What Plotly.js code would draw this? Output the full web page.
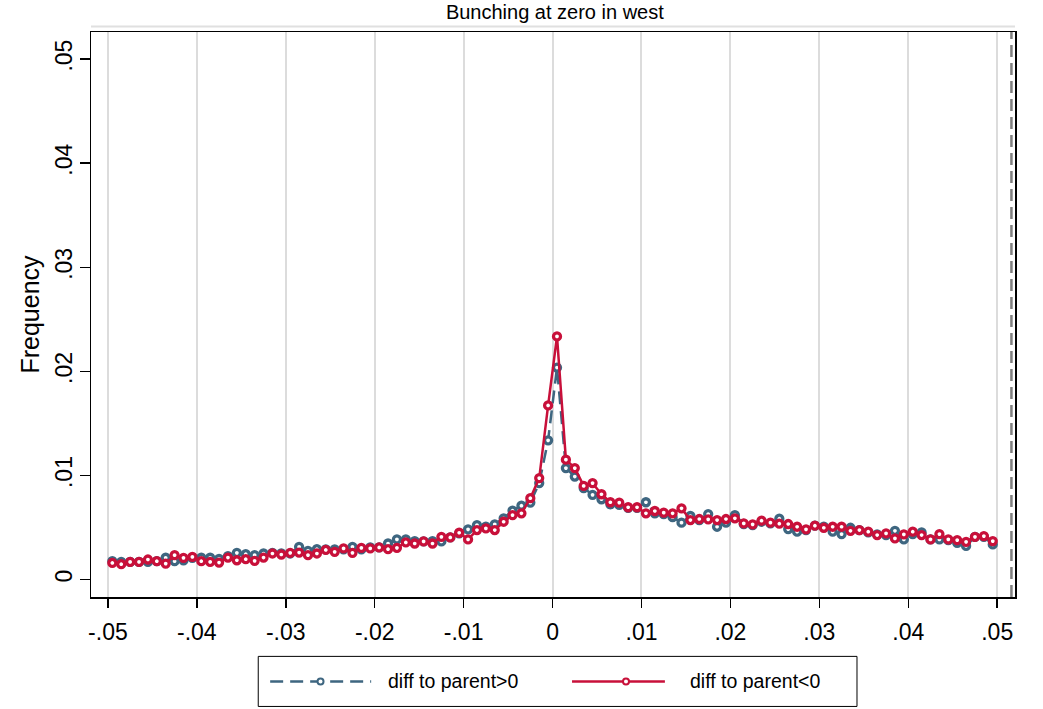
<!DOCTYPE html>
<html>
<head>
<meta charset="utf-8">
<script src="https://cdn.plot.ly/plotly-3.0.1.min.js"></script>
<style>html,body{margin:0;padding:0;background:#fff;}#chart{width:1043px;height:709px;}</style>
</head>
<body>
<div id="chart"></div>
<script>
// bin centres of the difference variable
const binCenters = [
 -0.0495,-0.0485,-0.0475,-0.0465,-0.0455,-0.0445,-0.0435,-0.0425,-0.0415,-0.0405,
 -0.0395,-0.0385,-0.0375,-0.0365,-0.0355,-0.0345,-0.0335,-0.0325,-0.0315,-0.0305,
 -0.0295,-0.0285,-0.0275,-0.0265,-0.0255,-0.0245,-0.0235,-0.0225,-0.0215,-0.0205,
 -0.0195,-0.0185,-0.0175,-0.0165,-0.0155,-0.0145,-0.0135,-0.0125,-0.0115,-0.0105,
 -0.0095,-0.0085,-0.0075,-0.0065,-0.0055,-0.0045,-0.0035,-0.0025,-0.0015,-0.0005,
 0.0005,0.0015,0.0025,0.0035,0.0045,0.0055,0.0065,0.0075,0.0085,0.0095,
 0.0105,0.0115,0.0125,0.0135,0.0145,0.0155,0.0165,0.0175,0.0185,0.0195,
 0.0205,0.0215,0.0225,0.0235,0.0245,0.0255,0.0265,0.0275,0.0285,0.0295,
 0.0305,0.0315,0.0325,0.0335,0.0345,0.0355,0.0365,0.0375,0.0385,0.0395,
 0.0405,0.0415,0.0425,0.0435,0.0445,0.0455,0.0465,0.0475,0.0485,0.0495
];
// frequency, diff to parent > 0
const freqPositive = [
 0.00177,0.00170,0.00170,0.00170,0.00170,0.00177,0.00210,0.00177,0.00186,0.00210,
 0.00210,0.00210,0.00200,0.00225,0.00257,0.00244,0.00235,0.00251,0.00257,0.00251,
 0.00251,0.00315,0.00276,0.00292,0.00291,0.00290,0.00290,0.00315,0.00290,0.00309,
 0.00309,0.00347,0.00386,0.00386,0.00370,0.00367,0.00370,0.00367,0.00405,0.00444,
 0.00483,0.00524,0.00508,0.00531,0.00589,0.00662,0.00710,0.00740,0.00927,0.01338,
 0.02037,0.01071,0.00990,0.00880,0.00814,0.00772,0.00724,0.00717,0.00690,0.00690,
 0.00743,0.00637,0.00630,0.00600,0.00547,0.00611,0.00572,0.00630,0.00508,0.00547,
 0.00620,0.00534,0.00524,0.00556,0.00540,0.00585,0.00485,0.00460,0.00476,0.00518,
 0.00508,0.00460,0.00437,0.00498,0.00476,0.00453,0.00434,0.00428,0.00469,0.00386,
 0.00437,0.00453,0.00386,0.00386,0.00379,0.00353,0.00324,0.00411,0.00411,0.00338
];
// frequency, diff to parent < 0
const freqNegative = [
 0.00160,0.00148,0.00170,0.00170,0.00193,0.00177,0.00154,0.00235,0.00209,0.00218,
 0.00177,0.00170,0.00164,0.00212,0.00186,0.00196,0.00180,0.00212,0.00251,0.00241,
 0.00257,0.00260,0.00235,0.00251,0.00285,0.00267,0.00300,0.00257,0.00305,0.00300,
 0.00309,0.00292,0.00305,0.00357,0.00347,0.00367,0.00347,0.00411,0.00405,0.00450,
 0.00386,0.00476,0.00492,0.00476,0.00556,0.00620,0.00637,0.00782,0.00975,0.01673,
 0.02336,0.01152,0.01071,0.00900,0.00927,0.00820,0.00743,0.00740,0.00695,0.00695,
 0.00637,0.00659,0.00643,0.00637,0.00685,0.00572,0.00582,0.00579,0.00572,0.00582,
 0.00589,0.00540,0.00531,0.00566,0.00547,0.00537,0.00534,0.00508,0.00483,0.00518,
 0.00498,0.00508,0.00508,0.00469,0.00476,0.00460,0.00428,0.00444,0.00396,0.00434,
 0.00460,0.00428,0.00386,0.00437,0.00386,0.00379,0.00363,0.00411,0.00418,0.00370
];
const xTickVals = [-0.05,-0.04,-0.03,-0.02,-0.01,0,0.01,0.02,0.03,0.04,0.05];
const xTickText = ["-.05","-.04","-.03","-.02","-.01","0",".01",".02",".03",".04",".05"];
const yTickVals = [0,0.01,0.02,0.03,0.04,0.05];
const yTickText = ["0",".01",".02",".03",".04",".05"];
const seriesNames = ["diff to parent>0","diff to parent<0"];
const refLineX = 0.0516;

const BLUE = "#3e6680";
const RED = "#c8103a";
const FONT = "Liberation Sans, Arial, sans-serif";

const traces = [
 {x: binCenters, y: freqPositive, name: seriesNames[0], type: "scatter", mode: "lines+markers",
  line: {color: BLUE, width: 2.5, dash: "13px,7px"},
  marker: {symbol: "circle", size: 7, color: "white", line: {color: BLUE, width: 3.3}},
  showlegend: false},
 {x: binCenters, y: freqNegative, name: seriesNames[1], type: "scatter", mode: "lines+markers",
  line: {color: RED, width: 2.5},
  marker: {symbol: "circle", size: 7, color: "white", line: {color: RED, width: 3.3}},
  showlegend: false}
];

// legend geometry (paper coordinates)
const legY = -0.1494;
const shapes = [
 {type: "line", xref: "x", yref: "paper", x0: refLineX, x1: refLineX, y0: 0, y1: 1,
  line: {color: "#808080", width: 2.5, dash: "12px,6px"}},
 {type: "line", xref: "paper", yref: "paper", x0: 0, x1: 1, y0: 1.0099, y1: 1.0099,
  line: {color: "#e0e0e0", width: 2}},
 {type: "rect", xref: "paper", yref: "paper", x0: 0.181, x1: 0.829, y0: -0.1937, y1: -0.1051,
  line: {color: "#000", width: 1}, fillcolor: "white"},
 {type: "line", xref: "paper", yref: "paper", x0: 0.1939, x1: 0.3032, y0: legY, y1: legY,
  line: {color: BLUE, width: 2.5, dash: "13px,7px"}},
 {type: "circle", xref: "paper", yref: "paper", xsizemode: "pixel", ysizemode: "pixel",
  xanchor: 0.2484, yanchor: legY, x0: -3, x1: 3, y0: -3, y1: 3,
  line: {color: BLUE, width: 2}, fillcolor: "white"},
 {type: "line", xref: "paper", yref: "paper", x0: 0.5206, x1: 0.6211, y0: legY, y1: legY,
  line: {color: RED, width: 2.5}},
 {type: "circle", xref: "paper", yref: "paper", xsizemode: "pixel", ysizemode: "pixel",
  xanchor: 0.579, yanchor: legY, x0: -3, x1: 3, y0: -3, y1: 3,
  line: {color: RED, width: 2}, fillcolor: "white"}
];

const annotations = [
 {xref: "paper", yref: "paper", x: 0.3194, y: legY, xanchor: "left", yanchor: "middle",
  text: seriesNames[0], showarrow: false, font: {family: FONT, size: 19.5, color: "#000"}},
 {xref: "paper", yref: "paper", x: 0.646, y: legY, xanchor: "left", yanchor: "middle",
  text: seriesNames[1], showarrow: false, font: {family: FONT, size: 19.5, color: "#000"}}
];

const layout = {
 width: 1043, height: 709,
 paper_bgcolor: "white", plot_bgcolor: "white",
 font: {family: FONT, color: "#000"},
 margin: {l: 91, r: 28, t: 32, b: 112, pad: 0},
 title: {text: "Bunching at zero in west", x: 0.502, xref: "paper", xanchor: "center",
         y: 0.983, yref: "container", yanchor: "middle", font: {family: FONT, size: 20, color: "#000"}},
 xaxis: {range: [-0.0519, 0.052], tickvals: xTickVals, ticktext: xTickText,
         showgrid: true, gridcolor: "#dcdcdc", gridwidth: 2, zeroline: false,
         showline: true, linecolor: "#000", linewidth: 1.5, mirror: true,
         ticks: "outside", ticklen: 9, tickwidth: 1.5, tickcolor: "#000",
         tickfont: {family: FONT, size: 23, color: "#000"}, ticklabelstandoff: 5},
 yaxis: {range: [-0.00167, 0.0526], tickvals: yTickVals, ticktext: yTickText,
         showgrid: false, zeroline: false,
         showline: true, linecolor: "#000", linewidth: 1.5, mirror: true,
         ticks: "outside", ticklen: 10, tickwidth: 1.5, tickcolor: "#000", tickangle: -90,
         tickfont: {family: FONT, size: 23, color: "#000"}, ticklabelstandoff: -2,
         title: {text: "Frequency", font: {family: FONT, size: 25, color: "#000"}, standoff: 4}},
 shapes: shapes,
 annotations: annotations,
 showlegend: false
};

Plotly.newPlot("chart", traces, layout, {displayModeBar: false, staticPlot: true});
</script>
</body>
</html>
